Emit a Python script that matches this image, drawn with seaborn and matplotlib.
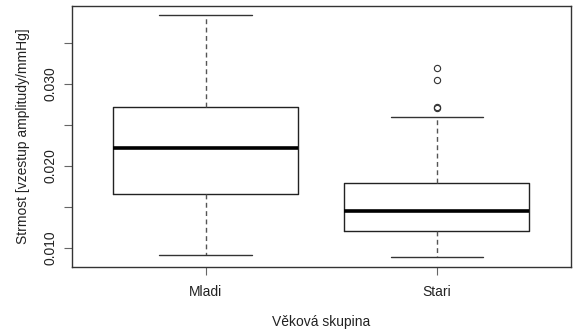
import matplotlib
matplotlib.use("Agg")
import matplotlib.pyplot as plt
import seaborn as sns

# Souhrnné hodnoty (box plot ve stylu R)
skupiny = ["Mladi", "Stari"]
dolni_vous = [0.00911, 0.00890]
q1 = [0.01651, 0.01200]
median = [0.02212, 0.01451]
q3 = [0.02720, 0.01785]
horni_vous = [0.03834, 0.02590]
odlehle = [[], [0.02700, 0.02720, 0.03049, 0.03188]]

y_ticks = [0.010, 0.015, 0.020, 0.025, 0.030, 0.035]
y_tick_labels = ["0.010", "", "0.020", "", "0.030", ""]

sns.set_style("white")
plt.rcParams["font.family"] = ["Liberation Sans", "DejaVu Sans"]

stats = []
for i, name in enumerate(skupiny):
    stats.append({
        "label": name,
        "whislo": dolni_vous[i],
        "q1": q1[i],
        "med": median[i],
        "q3": q3[i],
        "whishi": horni_vous[i],
        "fliers": odlehle[i],
    })

fig = plt.figure(figsize=(5.74, 3.31), dpi=100)
ax = fig.add_axes([0.1246, 0.1934, 0.9948 - 0.1246, 0.9819 - 0.1934])

ax.bxp(
    stats,
    positions=[1, 2],
    widths=0.8,
    capwidths=0.4,
    boxprops=dict(color="#222222", linewidth=1.0),
    medianprops=dict(color="black", linewidth=2.6),
    whiskerprops=dict(color="#555555", linewidth=1.0, linestyle=(0, (3.5, 2.5))),
    capprops=dict(color="#333333", linewidth=1.0),
    flierprops=dict(marker="o", markerfacecolor="none", markeredgecolor="#333333",
                    markersize=4.5, markeredgewidth=0.8),
)

ax.set_xlim(0.42, 2.58)
ax.set_ylim(0.00765, 0.03948)
ax.set_yticks(y_ticks)
ax.set_yticklabels(y_tick_labels, rotation=90, va="center")
ax.set_xticks([1, 2])
ax.set_xticklabels(skupiny)

ax.tick_params(axis="both", bottom=True, left=True, length=5.5, width=0.8,
               color="#666666", labelsize=10, labelcolor="#222222")
ax.tick_params(axis="x", pad=7.5)
ax.tick_params(axis="y", pad=4.5)
for s in ax.spines.values():
    s.set_color("#333333")
    s.set_linewidth(1.0)

ax.set_xlabel("Věková skupina", fontsize=10, color="#222222", labelpad=11.5)
ax.set_ylabel("Strmost [vzestup amplitudy/mmHg]", fontsize=10, color="#222222", labelpad=10)

fig.savefig("out.png", dpi=100)
